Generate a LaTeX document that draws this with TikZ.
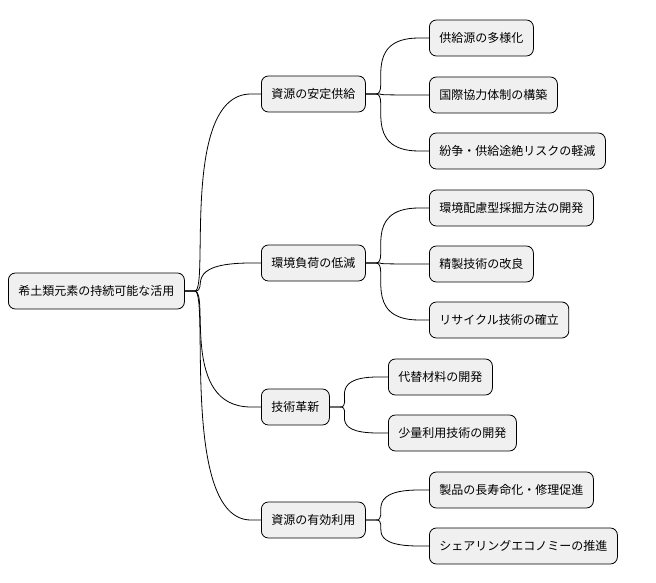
\documentclass[tikz,border=0pt]{standalone}
\usepackage{fontspec}
\setmainfont{Noto Sans CJK JP}
\begin{document}
\begin{tikzpicture}[x=1pt,y=-1pt,
  box/.style={draw=black,fill=gray!12,rounded corners=7pt,line width=0.8pt,minimum height=36pt,inner xsep=10pt,anchor=west,font=\fontsize{12}{14}\selectfont},
  con/.style={line width=0.8pt}]
\useasboundingbox (0,0) rectangle (656,583);
\node[box] (r) at (8,291) {希土類元素の持続可能な活用};
\node[box] (a) at (261,94) {資源の安定供給};
\node[box] (b) at (261,263) {環境負荷の低減};
\node[box] (c) at (261,407) {技術革新};
\node[box] (d) at (261,520) {資源の有効利用};
\node[box] (a1) at (429,38) {供給源の多様化};
\node[box] (a2) at (429,95) {国際協力体制の構築};
\node[box] (a3) at (429,151) {紛争・供給途絶リスクの軽減};
\node[box] (b1) at (429,208) {環境配慮型採掘方法の開発};
\node[box] (b2) at (429,264) {精製技術の改良};
\node[box] (b3) at (429,320) {リサイクル技術の確立};
\node[box] (c1) at (388,377) {代替材料の開発};
\node[box] (c2) at (388,433) {少量利用技術の開発};
\node[box] (d1) at (429,490) {製品の長寿命化・修理促進};
\node[box] (d2) at (429,546) {シェアリングエコノミーの推進};
\foreach \p/\c in {r/a,r/b,r/c,r/d,a/a1,a/a2,a/a3,b/b1,b/b2,b/b3,c/c1,c/c2,d/d1,d/d2}{
  \draw[con] (\p.east) -- ++(10,0) coordinate (s)
    .. controls ([xshift=15pt]s) and ([xshift=-15pt]\c.west-|s) .. ([xshift=-10pt]\c.west) -- (\c.west);
}
\end{tikzpicture}
\end{document}
